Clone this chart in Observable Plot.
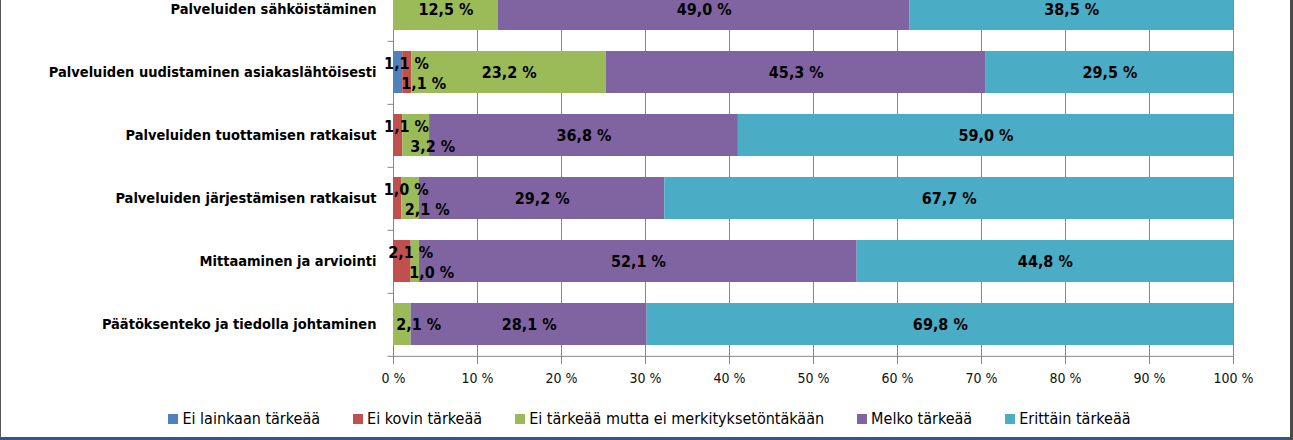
<!DOCTYPE html>
<html>
<head>
<meta charset="utf-8">
<script src="https://cdn.jsdelivr.net/npm/d3@7"></script>
<script src="https://cdn.jsdelivr.net/npm/@observablehq/plot@0.6"></script>
<style>
  html, body { margin: 0; padding: 0; background: #fff; }
  #frame { position: relative; width: 1293px; height: 440px; overflow: hidden; background: #fff;
    font-family: "DejaVu Sans Condensed", "Liberation Sans Narrow", sans-serif; }
  #chart { position: absolute; left: 0; top: 0; }
  #legend { position: absolute; left: 3px; top: 409px; width: 1293px; display: flex; justify-content: center;
    align-items: center; gap: 33px; font-size: 16px; color: #000; }
  #legend .item { display: flex; align-items: center; white-space: nowrap; }
  #legend .sw { width: 10px; height: 10px; margin-right: 4px; }
  .bL { position: absolute; left: 0; top: 0; width: 1px; height: 440px; background: #595959; }
  .bR { position: absolute; left: 1290px; top: 0; width: 3px; height: 440px; background: #4a4a4a; }
  .bB { position: absolute; left: 0; top: 437px; width: 1290px; height: 3px; background: #34568b; }
</style>
</head>
<body>
<div id="frame">
  <div id="chart"></div>
  <div id="legend"></div>
  <div class="bL"></div><div class="bR"></div><div class="bB"></div>
</div>
<script>
const categories = [
  "Palveluiden sähköistäminen",
  "Palveluiden uudistaminen asiakaslähtöisesti",
  "Palveluiden tuottamisen ratkaisut",
  "Palveluiden järjestämisen ratkaisut",
  "Mittaaminen ja arviointi",
  "Päätöksenteko ja tiedolla johtaminen"
];
const series = [
  "Ei lainkaan tärkeää",
  "Ei kovin tärkeää",
  "Ei tärkeää mutta ei merkityksetöntäkään",
  "Melko tärkeää",
  "Erittäin tärkeää"
];
const colors = ["#4F81BD", "#C0504D", "#9BBB59", "#8064A2", "#4BACC6"];

const eiLainkaan = [0, 1.1, 0, 0, 0, 0];
const eiKovin    = [0, 1.1, 1.1, 1.0, 2.1, 0];
const eiTarkeaa  = [12.5, 23.2, 3.2, 2.1, 1.0, 2.1];
const melko      = [49.0, 45.3, 36.8, 29.2, 52.1, 28.1];
const erittain   = [38.5, 29.5, 59.0, 67.7, 44.8, 69.8];
const seriesValues = [eiLainkaan, eiKovin, eiTarkeaa, melko, erittain];

const xTicks = [0, 10, 20, 30, 40, 50, 60, 70, 80, 90, 100];

// build 100%-stacked rows
const rows = [];
categories.forEach((c, i) => {
  const vals = seriesValues.map(a => a[i]);
  const total = d3.sum(vals);
  let cum = 0;
  const small = [];
  vals.forEach((v, j) => {
    if (v > 0) {
      const r = {category: c, series: series[j], value: v, x1: cum / total, x2: (cum + v) / total};
      r.xm = (r.x1 + r.x2) / 2;
      r.pos = "mid";
      rows.push(r);
      if (v < 5) small.push(r);
    }
    cum += v;
  });
  small.forEach((r, k) => r.pos = small.length === 1 ? "side" : (k === 0 ? "up" : "down"));
});

const fmt = v => d3.format(".1f")(v).replace(".", ",") + " %";
const grid = "#878787";
const labelFont = 16;
const half = 382 / 6 / 2;

const textOpts = {x: "xm", y: "category", text: d => fmt(d.value), fontWeight: "bold", fontSize: labelFont, fill: "#000"};

const chart = Plot.plot({
  width: 1293,
  height: 400,
  marginLeft: 393,
  marginRight: 60,
  marginTop: 0,
  marginBottom: 42,
  style: {fontFamily: "'DejaVu Sans Condensed', 'Liberation Sans Narrow', sans-serif", background: "transparent"},
  x: {domain: [0, 1]},
  y: {domain: categories, range: [-24, 358], paddingInner: 0.33, paddingOuter: 0.165, label: null},
  color: {domain: series, range: colors},
  marks: [
    Plot.ruleX(xTicks.map(t => t / 100), {stroke: grid}),
    Plot.barX(rows, {x1: "x1", x2: "x2", y: "category", fill: "series"}),
    Plot.ruleY(categories, {y: d => d, dy: half, x1: -0.0065, x2: 0, stroke: grid}),
    Plot.ruleY([categories[categories.length - 1]], {y: d => d, dy: half, stroke: grid}),
    Plot.axisX(xTicks.map(t => t / 100), {tickSize: 6, tickPadding: 9, stroke: grid, fill: "#111",
      fontSize: 14, label: null, tickFormat: d => `${Math.round(d * 100)} %`}),
    Plot.axisY({tickSize: 0, tickPadding: 17, fontWeight: "bold", fontSize: 14.5, fill: "#000", label: null}),
    Plot.text(rows.filter(d => d.pos === "mid"), textOpts),
    Plot.text(rows.filter(d => d.pos === "up"), {...textOpts, textAnchor: "start", dx: -14, dy: -9}),
    Plot.text(rows.filter(d => d.pos === "down"), {...textOpts, textAnchor: "start", dx: -6, dy: 11}),
    Plot.text(rows.filter(d => d.pos === "side"), {...textOpts, textAnchor: "start", dx: -6})
  ]
});
document.getElementById("chart").appendChild(chart);

const legend = document.getElementById("legend");
series.forEach((s, i) => {
  const item = document.createElement("div");
  item.className = "item";
  const sw = document.createElement("span");
  sw.className = "sw";
  sw.style.background = colors[i];
  const t = document.createElement("span");
  t.textContent = s;
  item.appendChild(sw);
  item.appendChild(t);
  legend.appendChild(item);
});
</script>
</body>
</html>
